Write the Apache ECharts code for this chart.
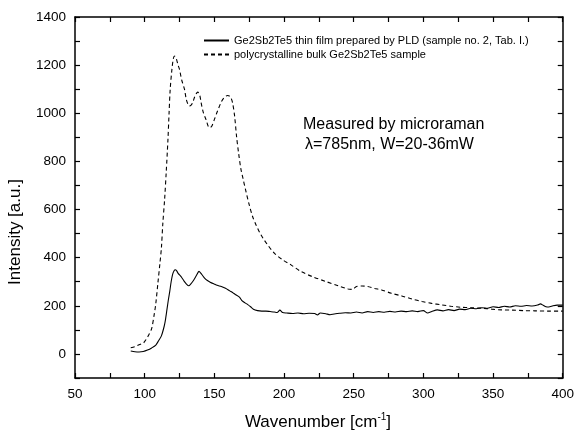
<!DOCTYPE html>
<html>
<head>
<meta charset="utf-8">
<script src="https://cdn.jsdelivr.net/npm/echarts@6/dist/echarts.min.js"></script>
<style>html,body{margin:0;padding:0;background:#fff}#c{width:577px;height:434px}</style>
</head>
<body>
<div id="c"></div>
<script>
// Thin film (solid)
var filmX = [90,93,96,99,102,105,108,110,112,114,115,116,117,118,119,120,121,122,123,124,126,128,130,131.7,133,135,137,139,141,143,145,147,150,152,155,158,161,163,165,168,170,172,174,176,178,181,184,187,190,193,195,197,199,202,206,210,214,218,222,224,226,230,233,236,240,244,248,252,256,260,264,268,272,276,280,284,288,292,296,300,303,306,310,314,318,322,326,330,334,338,342,346,350,354,358,362,366,370,374,378,382,384,386,388,390,393,396,400];
var filmY = [12,9,8,10,16,25,37,55,75,115,145,185,225,260,300,330,345,350,345,335,322,305,290,283,290,305,325,343,330,315,305,298,290,285,280,273,262,255,247,236,220,212,205,196,186,180,178,178,176,174,172,182,172,170,168,170,167,169,168,162,170,167,163,166,169,171,170,174,170,176,172,176,173,177,174,178,176,179,176,180,170,176,183,179,184,180,186,184,190,188,192,190,196,193,198,195,200,198,201,199,203,208,202,196,195,200,203,203];
// Polycrystalline bulk (dashed)
var bulkX = [90,93,96,99,101,103,105,107,108,109.5,111,112,113,114.3,115.5,116.7,117.5,118.3,119.5,120.5,121.4,122.5,124,125,126.5,128.6,130,132.1,133.5,134.5,136,138.1,139.5,140.5,142,144,146.4,148,150,152,154.8,157,159.5,161.5,163,164.5,166,167.5,169,170.5,172.5,175,177.5,180,182.5,185,188,193,199,205,212,220,230,239,246,249,252,256,260,265,270,277,284.5,292,299,306,313,320,327,334,342,349,356,364,372,380,390,400];
var bulkY = [26,30,38,45,60,80,105,170,210,295,380,440,540,641,760,891,1000,1099,1180,1225,1238,1230,1200,1182,1140,1099,1055,1030,1035,1045,1070,1088,1075,1044,1005,974,940,945,974,1005,1045,1065,1074,1068,1045,990,900,830,770,730,680,620,570,535,505,480,455,419,391,370,343,322,301,283,270,268,280,282,280,272,266,252,241,228,218,210,204,198,194,192,190,186,183,182,180,179,178,178];
var xTicks = [50,100,150,200,250,300,350,400];
var yTicks = [0,200,400,600,800,1000,1200,1400];
var legendNames = ['Ge2Sb2Te5 thin film prepared by PLD (sample no. 2, Tab. I.)','polycrystalline bulk Ge2Sb2Te5 sample'];

function pairs(xs, ys){ var out=[]; for(var i=0;i<xs.length;i++) out.push([xs[i], ys[i]]); return out; }
var FONT = "'Liberation Sans', Arial, sans-serif";
var chart = echarts.init(document.getElementById('c'), null, {renderer:'canvas'});
var axisLine = {show:true, onZero:false, lineStyle:{color:'#000', width:1.5}};
var tick = {show:true, inside:true, length:5, lineStyle:{color:'#000', width:1.2}};
chart.setOption({
  animation:false,
  backgroundColor:'#fff',
  grid:{left:75, right:12, top:17, bottom:56, containLabel:false},
  legend:{
    orient:'vertical', left:198, top:30, itemWidth:25, itemHeight:11, itemGap:3,
    data:legendNames,
    itemStyle:{opacity:0},
    textStyle:{fontFamily:FONT, fontSize:11, color:'#000'},
    selectedMode:false
  },
  xAxis:[
    {type:'value', min:50, max:400, interval:25, position:'bottom',
     axisLine:axisLine, axisTick:tick, splitLine:{show:false},
     axisLabel:{color:'#000', fontFamily:FONT, fontSize:13.5, margin:9,
       formatter:function(v){ return xTicks.indexOf(v)>=0 ? String(v) : ''; }}},
    {type:'value', min:50, max:400, interval:25, position:'top',
     axisLine:axisLine, axisTick:tick, splitLine:{show:false}, axisLabel:{show:false}}
  ],
  yAxis:[
    {type:'value', min:-100, max:1400, interval:100, position:'left',
     axisLine:axisLine, axisTick:tick, splitLine:{show:false},
     axisLabel:{color:'#000', fontFamily:FONT, fontSize:13.5, margin:9,
       formatter:function(v){ return yTicks.indexOf(v)>=0 ? String(v) : ''; }}},
    {type:'value', min:-100, max:1400, interval:100, position:'right',
     axisLine:axisLine, axisTick:tick, splitLine:{show:false}, axisLabel:{show:false}}
  ],
  graphic:[
    {type:'text', left:303, top:117, style:{text:'Measured by microraman', font:'16px '+FONT, fill:'#000'}},
    {type:'text', left:305, top:137, style:{text:'\u03bb=785nm, W=20-36mW', font:'16px '+FONT, fill:'#000'}},
    {type:'text', x:15, y:232, rotation:Math.PI/2, style:{text:'Intensity [a.u.]', font:'17px '+FONT, fill:'#000', align:'center', verticalAlign:'middle'}},
    {type:'text', x:318, y:422, style:{text:'Wavenumber [cm{s|-1}]', font:'17px '+FONT, fill:'#000', align:'center', verticalAlign:'middle',
      rich:{s:{fontSize:10, fontFamily:FONT, verticalAlign:'top', padding:[0,0,9,0]}}}}
  ],
  series:[
    {name:legendNames[0], type:'line', xAxisIndex:0, yAxisIndex:0, data:pairs(filmX, filmY), symbol:'none', smooth:0.25,
     lineStyle:{color:'#000', width:1.1, type:'solid'}, itemStyle:{color:'#000'}},
    {name:legendNames[1], type:'line', xAxisIndex:0, yAxisIndex:0, data:pairs(bulkX, bulkY), symbol:'none', smooth:0.3,
     lineStyle:{color:'#000', width:1.1, type:[4,3]}, itemStyle:{color:'#000'}}
  ]
});
</script>
</body>
</html>
